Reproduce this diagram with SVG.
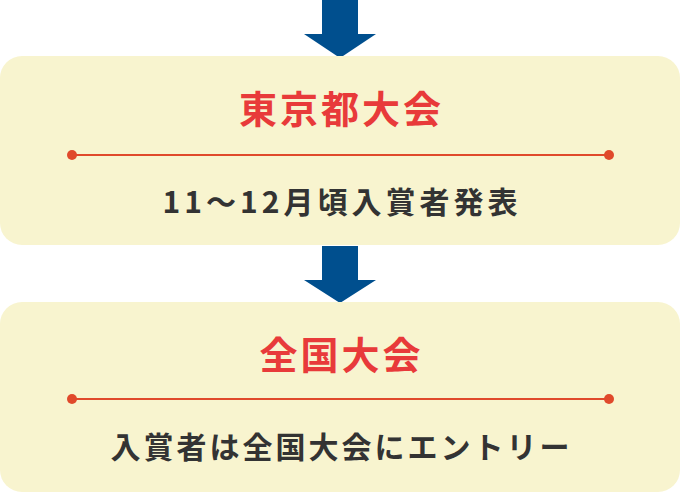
<svg xmlns="http://www.w3.org/2000/svg" width="680" height="492" viewBox="0 0 680 492">
<defs>
<style>
.box{fill:#f8f4cf}
.arrow{fill:#004f8e}
.title{font-family:"Noto Sans CJK JP","Noto Sans",sans-serif;font-weight:700;font-size:38px;fill:#e83a3a;text-anchor:middle;letter-spacing:3px}
.body{font-family:"Noto Sans CJK JP","Noto Sans",sans-serif;font-weight:700;font-size:30px;fill:#333333;text-anchor:middle;letter-spacing:3px}
.wide{letter-spacing:4px}
.rule{stroke:#e0492b;stroke-width:2}
.dot{fill:#e0492b}
</style>
</defs>
<g id="connectors">
<polygon class="arrow" points="322,0 358,0 358,34 376,34 340,58 304,34 322,34"/>
<polygon class="arrow" points="322,246 358,246 358,280 376,280 340,303 304,280 322,280"/>
</g>
<g id="node-tokyo">
<rect class="box" x="0" y="56" width="680" height="189" rx="22"/>
<text class="title" x="341.5" y="123">東京都大会</text>
<line class="rule" x1="72" y1="155" x2="609" y2="155"/>
<circle class="dot" cx="72" cy="155" r="5"/>
<circle class="dot" cx="609" cy="155" r="5"/>
<text class="body wide" x="342" y="213">11〜12月頃入賞者発表</text>
</g>
<g id="node-national">
<rect class="box" x="0" y="302" width="680" height="190" rx="22"/>
<text class="title" x="341.5" y="369">全国大会</text>
<line class="rule" x1="72" y1="399" x2="609" y2="399"/>
<circle class="dot" cx="72" cy="399" r="5"/>
<circle class="dot" cx="609" cy="399" r="5"/>
<text class="body" x="341.5" y="458">入賞者は全国大会にエントリー</text>
</g>
</svg>
